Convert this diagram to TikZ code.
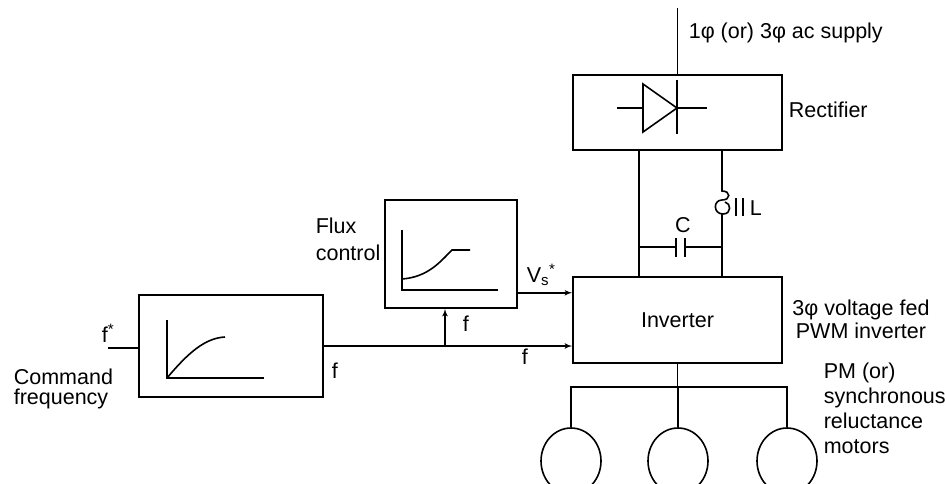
\documentclass[tikz,border=0pt]{standalone}
\usepackage{fontspec}
\setmainfont{Liberation Sans}
\usetikzlibrary{arrows,shapes.geometric}
\begin{document}
\begin{tikzpicture}[x=1pt,y=-1pt,line width=1.6pt]
    \tikzset{block/.style = {shape=rectangle,draw,inner sep=0pt}}
    \tikzset{motor/.style = {shape=ellipse,draw,minimum width=60pt,minimum height=66pt,inner sep=0pt}}
    \tikzset{lbl/.style = {font=\fontsize{21.5}{23}\selectfont,inner sep=0pt}}
    \tikzset{edge/.style = {->,> = latex'}}
    \useasboundingbox (0,0) rectangle (945,483);
    % blocks
    \node[block,minimum width=209pt,minimum height=75pt] (rect) at (677.5,112.5) {};
    \node[block,minimum width=209pt,minimum height=86pt,lbl] (inv) at (677.5,320) {Inverter};
    \node[block,minimum width=132pt,minimum height=108pt] (flux) at (451,254) {};
    \node[block,minimum width=184pt,minimum height=102pt] (ramp) at (231,346) {};
    \node[motor] (m1) at (571,461) {};
    \node[motor] (m2) at (678,461) {};
    \node[motor] (m3) at (787,461) {};
    \coordinate (ac) at (677.5,8);
    \coordinate (fin) at (108,348);
    \coordinate (tap) at (445,346);
    \coordinate (bus) at (677.5,387);
    \coordinate (vsout) at ([yshift=16pt]flux.south east);
    % labels
    \node[lbl,anchor=base west] (supplylbl) at (688,38) {1φ (or) 3φ ac supply};
    \node[lbl,anchor=base west] (rectlbl) at (788,117) {Rectifier};
    \node[lbl] (clbl) at (683,225) {C};
    \node[lbl,anchor=west] (llbl) at (749,208) {L};
    \node[lbl,align=center,anchor=north] (pwmlbl) at (861,299) {3φ voltage fed\\PWM inverter};
    \node[lbl,align=left,anchor=north west,font=\fontsize{21.5}{27}\selectfont] (fluxlbl) at (315,217) {Flux\\control};
    \node[lbl,align=left,anchor=north west,font=\fontsize{21.5}{20}\selectfont] (cmdlbl) at (13,368) {Command\\frequency};
    \node[lbl,align=left,anchor=north west,font=\fontsize{21.5}{25}\selectfont] (pmlbl) at (823,362) {PM (or)\\synchronous\\reluctance\\motors};
    \node[lbl,anchor=base west] (fslbl) at (101,342) {f\textsuperscript{*}};
    \node[lbl,anchor=base west] (f1lbl) at (331,378) {f};
    \node[lbl,anchor=base west] (f2lbl) at (462,331) {f};
    \node[lbl,anchor=base west] (f3lbl) at (521,364) {f};
    \node[lbl,anchor=base west] (vslbl) at (526,282) {V\textsubscript{s}\textsuperscript{*}};
    % rectifier symbol
    \draw (617,108) -- (643,108);
    \draw (643,84) -- (677,108) -- (643,132) -- cycle;
    \draw (677,80) -- (677,134);
    \draw (677,108) -- (707,108);
    % dc link
    \draw ([xshift=-38.5pt]rect.south) -- ([xshift=-38.5pt]inv.north);
    \draw ([xshift=44.5pt]rect.south) -- (722,191)
        .. controls (731,191) and (731,200) .. (722,200)
        .. controls (713,200) and (713,214) .. (723,214)
        .. controls (732,214) and (731,203) .. (725,202);
    \draw (722,213) -- ([xshift=44.5pt]inv.north);
    \draw (736,198) -- (736,216);
    \draw (743,198) -- (743,216);
    \draw (639,247) -- (676,247);
    \draw (676,238) -- (676,257);
    \draw (685,238) -- (685,257);
    \draw (685,247) -- (722,247);
    % graphs
    \draw (402,230) -- (402,290) -- (498,290);
    \draw (402,279) .. controls (428,277) and (440,262) .. (452,250) -- (470,250);
    \draw (167,320) -- (167,378) -- (264,378);
    \draw (167,378) .. controls (188,353) and (205,338) .. (225,337);
    % connectors
    \draw (ac) -- (rect.north);
    \draw (fin) -- (fin -| ramp.west);
    \draw[edge] (ramp.east) -- (inv.west |- ramp.east);
    \draw[edge] (tap) -- (tap |- flux.south);
    \draw[edge] (vsout) -- (inv.west |- vsout);
    \draw (inv.south) -- (bus);
    \draw (m1.north) -- (m1.north |- bus) -- (m3.north |- bus) -- (m3.north);
    \draw (bus -| m2.north) -- (m2.north);
\end{tikzpicture}
\end{document}
